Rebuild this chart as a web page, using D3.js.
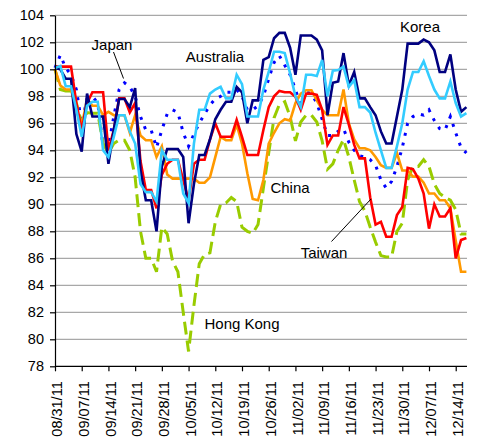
<!DOCTYPE html>
<html><head><meta charset="utf-8">
<script src="https://cdn.jsdelivr.net/npm/d3@7"></script>
<style>
body{margin:0;background:#fff}
svg{display:block}
text{font-family:"Liberation Sans",Arial,sans-serif;fill:#000}
</style>
</head><body>
<svg id="c" width="481" height="443"></svg>
<script>
// ---- data ----
const yTicks = [78,80,82,84,86,88,90,92,94,96,98,100,102,104];
const tickLabels = ["08/31/11","09/07/11","09/14/11","09/21/11","09/28/11","10/05/11","10/12/11","10/19/11","10/26/11","11/02/11","11/09/11","11/16/11","11/23/11","11/30/11","12/07/11","12/14/11"];
// business days 08/31/11 .. 12/16/11
const days = d3.timeDays(new Date(2011,7,31), new Date(2011,11,17)).filter(d => d.getDay() % 6 !== 0);

const korea = [100.1,100.0,99.3,99.3,95.2,93.9,98.2,96.5,96.5,96.5,
  93.0,95.5,97.8,97.8,97.2,98.6,92.5,90.3,90.3,88.0,
  92.8,94.1,94.1,94.1,93.5,88.6,91.5,93.65,93.65,94.8,
  96.3,97.0,97.6,97.6,98.7,98.3,96.0,97.7,97.7,100.7,
  100.9,102.3,102.7,102.7,101.6,99.6,102.5,102.5,102.5,102.2,
  101.4,96.6,99.0,99.1,101.2,98.8,99.8,97.85,97.85,97.2,
  96.6,95.4,94.5,94.5,96.5,98.5,101.9,101.9,101.9,102.2,
  102.0,101.4,99.8,99.8,101.1,98.5,96.85,97.2];
const australia = [100.1,100.25,98.75,98.75,97.0,95.0,97.3,97.6,97.6,94.0,
  93.5,95.0,96.6,96.6,95.4,94.5,91.5,90.9,90.9,90.2,
  94.0,93.3,93.3,93.3,90.8,90.1,94.5,97.0,97.0,98.2,
  98.5,98.7,97.85,97.85,99.6,98.9,96.5,96.5,96.5,98.5,
  99.8,101.3,101.3,101.2,99.7,98.0,97.2,99.6,99.6,99.5,
  100.7,98.0,99.9,99.95,100.2,98.7,99.2,97.2,97.2,96.8,
  95.3,94.0,92.7,92.7,94.3,96.0,98.5,99.8,99.8,100.6,
  99.5,98.5,97.85,97.85,99.1,97.5,96.5,96.75];
const japan = [100.1,101.05,100.1,99.6,98.5,96.0,97.8,98.0,97.5,94.3,
  94.3,96.5,98.5,99.0,98.7,98.0,96.5,95.5,95.5,94.2,
  95.5,96.7,97.0,96.8,95.3,94.3,95.2,96.0,96.7,97.35,
  97.8,98.0,98.3,98.3,98.5,98.0,97.0,97.0,97.3,98.0,
  99.3,100.5,101.0,100.3,99.6,98.5,97.3,98.3,98.2,97.5,
  96.3,95.1,95.1,95.4,95.6,94.6,94.0,93.6,93.5,93.3,
  92.9,91.8,91.2,91.7,92.8,94.2,96.0,96.5,96.7,96.6,
  97.0,96.2,95.6,95.5,96.5,95.3,94.2,93.8];
const china = [100.0,98.8,98.5,98.5,97.0,95.8,97.8,97.3,97.3,96.6,
  96.85,96.6,96.6,96.6,95.3,96.6,95.1,94.75,94.75,93.5,
  94.3,92.2,91.9,91.9,91.9,91.9,91.9,91.6,91.6,92.0,
  93.5,95.0,94.75,94.75,95.9,94.5,92.3,90.4,90.3,91.8,
  94.5,95.3,96.0,96.3,96.2,97.5,98.2,98.45,98.45,97.7,
  97.0,96.6,96.6,96.6,98.5,96.0,94.8,94.15,94.15,94.0,
  93.5,92.9,92.7,92.7,93.8,92.5,92.5,92.05,92.05,91.6,
  90.8,90.8,90.3,90.3,89.7,87.3,85.0,85.0];
const taiwan = [100.2,100.2,100.2,100.2,97.5,95.5,97.5,98.3,98.3,98.3,
  94.0,95.5,97.85,97.85,96.8,97.5,93.2,91.06,91.06,89.7,
  92.2,93.0,93.3,93.3,91.8,90.3,93.0,93.3,93.3,94.8,
  96.0,95.0,95.0,95.0,96.25,95.0,93.65,93.65,93.65,95.5,
  97.2,98.0,98.4,98.3,98.3,97.97,97.0,98.2,98.2,98.1,
  97.0,94.4,95.1,95.1,97.2,95.9,94.4,93.4,93.4,90.5,
  88.5,88.7,87.6,87.6,89.2,89.8,92.7,92.6,91.9,90.8,
  88.2,90.0,89.1,89.1,89.7,86.0,87.35,87.5];
const hongKong = [100.0,98.5,98.4,98.4,97.5,96.0,96.8,96.75,96.75,94.5,
  93.8,94.5,94.75,94.75,94.0,92.0,88.0,86.0,86.0,85.0,
  88.3,87.8,85.8,85.0,82.0,79.1,82.5,85.6,86.3,86.4,
  88.7,90.0,90.1,90.5,90.2,88.3,88.0,87.85,88.5,91.2,
  93.8,96.4,97.4,97.6,96.5,94.7,96.1,96.6,96.6,96.1,
  94.7,92.6,93.0,94.0,94.8,93.5,91.8,90.2,89.5,88.3,
  87.2,86.2,86.1,86.1,88.0,88.6,91.8,92.8,92.8,93.3,
  92.8,91.5,90.8,90.5,90.3,89.6,87.8,87.8];

const series = [
  {name:"Japan", values:japan, color:"#0000FF", width:3, dash:"3,7"},
  {name:"Hong Kong", values:hongKong, color:"#99CC00", width:3, dash:"13,6"},
  {name:"China", values:china, color:"#FF9900", width:2.6, dash:null},
  {name:"Taiwan", values:taiwan, color:"#FF0000", width:2.6, dash:null},
  {name:"Korea", values:korea, color:"#000080", width:2.6, dash:null},
  {name:"Australia", values:australia, color:"#33CCFF", width:2.6, dash:null}
];

// ---- layout ----
const L = 55, R = 467, T = 15.3, B = 366.3;
const svg = d3.select("#c");
const x = d3.scalePoint().domain(days).range([L, 466.4]);
const y = d3.scaleLinear().domain([78,104]).range([B, T]);
const fmt = d3.timeFormat("%m/%d/%y");

// gridlines
svg.append("g").selectAll("line").data(yTicks.filter(v => v > 78)).join("line")
  .attr("x1", L).attr("x2", R).attr("y1", d => y(d)).attr("y2", d => y(d))
  .attr("stroke", "#A8A8A8").attr("stroke-width", 1.2);

// lines
const line = d3.line().x((d,i) => x(days[i])).y(d => y(d));
svg.append("g").selectAll("path").data(series).join("path")
  .attr("d", s => line(s.values))
  .attr("fill", "none")
  .attr("stroke", s => s.color)
  .attr("stroke-width", s => s.width)
  .attr("stroke-dasharray", s => s.dash)
  .attr("stroke-linejoin", "miter");

// y axis
const ya = svg.append("g").attr("transform", `translate(${L},0)`)
  .call(d3.axisLeft(y).tickValues(yTicks).tickSize(5).tickSizeOuter(0).tickPadding(6).tickFormat(d3.format("d")));
ya.select(".domain").attr("stroke", "#000").attr("stroke-width", 1.2);
ya.selectAll(".tick line").attr("stroke", "#000").attr("stroke-width", 1.2);
ya.selectAll("text").style("font-size", "14.5px").style("font-family", '"Liberation Sans",Arial,sans-serif');

// x axis
const tickDays = days.filter(d => tickLabels.includes(fmt(d)));
const xa = svg.append("g").attr("transform", `translate(0,${B})`)
  .call(d3.axisBottom(x).tickValues(tickDays).tickSize(5).tickSizeOuter(0).tickFormat(fmt));
xa.select(".domain").attr("d", `M${L},0H${R}`).attr("stroke", "#000").attr("stroke-width", 1.2);
xa.selectAll(".tick line").attr("stroke", "#000").attr("stroke-width", 1.2);
xa.selectAll("text")
  .attr("transform", "rotate(-90)")
  .attr("text-anchor", "end")
  .attr("x", -15).attr("y", 1.5).attr("dy", "0.35em")
  .style("font-size", "14.5px").style("font-family", '"Liberation Sans",Arial,sans-serif');

// labels
const labels = [
  {t:"Japan", x:112, y:50},
  {t:"Australia", x:215, y:62},
  {t:"Korea", x:420, y:31.5},
  {t:"China", x:290, y:193},
  {t:"Taiwan", x:324, y:257.5},
  {t:"Hong Kong", x:242, y:329}
];
svg.append("g").selectAll("text").data(labels).join("text")
  .attr("x", d => d.x).attr("y", d => d.y).attr("text-anchor", "middle")
  .style("font-size", "15px").text(d => d.t);

// leader lines
svg.append("line").attr("x1",113.5).attr("y1",52).attr("x2",123.5).attr("y2",78.5).attr("stroke","#000").attr("stroke-width",1);
svg.append("line").attr("x1",331.5).attr("y1",241.5).attr("x2",371).attr("y2",199).attr("stroke","#000").attr("stroke-width",1);
</script>
</body></html>
